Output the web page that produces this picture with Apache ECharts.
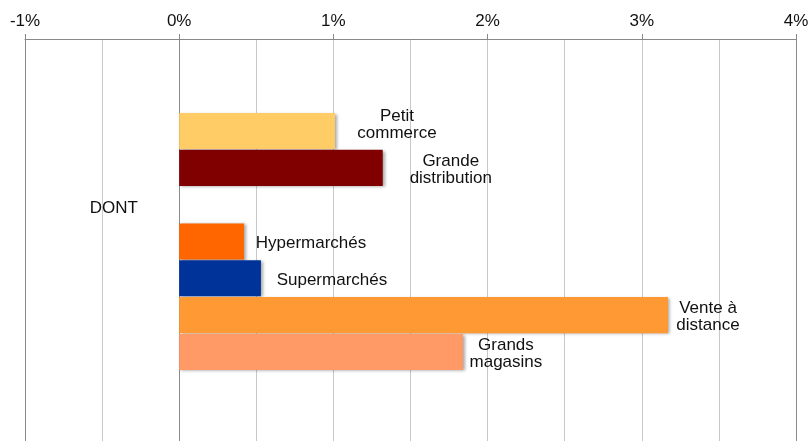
<!DOCTYPE html>
<html>
<head>
<meta charset="utf-8">
<script src="https://cdn.jsdelivr.net/npm/echarts@6/dist/echarts.min.js"></script>
<style>
  html, body { margin: 0; padding: 0; background: #fff; }
  #chart { width: 810px; height: 441px; }
</style>
</head>
<body>
<div id="chart"></div>
<script>
// rows from top to bottom; empty strings are blank rows
const categories = ['', '', 'Petit\ncommerce', 'Grande\ndistribution', 'DONT', 'Hypermarchés', 'Supermarchés', 'Vente à\ndistance', 'Grands\nmagasins', '', '']
const values = [null, null, 1.01, 1.32, null, 0.42, 0.53, 3.17, 1.84, null, null]
const barColors = [null, null, '#ffcc66', '#800000', null, '#ff6600', '#003399', '#ff9933', '#ff9966', null, null]
const tickLabels = ['-1%', '0%', '1%', '2%', '3%', '4%']

// label placement tweaks (offset from the bar end, px)
const labelOffsets = [null, null, [62, -6], [68, 2], null, [67, 2], [71, 2], [40, 2], [43, 2], null, null]

const font = 'Liberation Sans, Arial, sans-serif'
const chart = echarts.init(document.getElementById('chart'))

const seriesData = values.map((v, i) => {
  if (v === null) return null
  const off = labelOffsets[i] || [0, 0]
  return {
    value: v,
    itemStyle: { color: barColors[i] },
    label: { offset: off }
  }
})

chart.setOption({
  animation: false,
  grid: { left: 25, right: 14, top: 39, bottom: -3, containLabel: false, outerBoundsMode: 'none' },
  xAxis: {
    type: 'value',
    position: 'top',
    min: -1,
    max: 4,
    interval: 1,
    axisLine: { show: true, lineStyle: { color: '#888', width: 1 } },
    axisTick: { show: true, length: 5, lineStyle: { color: '#888' } },
    axisLabel: {
      margin: 9,
      fontSize: 17,
      fontFamily: font,
      color: '#111',
      formatter: (v) => tickLabels[Math.round(v) + 1]
    },
    splitLine: {
      show: true,
      lineStyle: { color: ['#8a8a8a', '#8a8a8a', '#c8c8c8', '#c8c8c8', '#c8c8c8', '#8a8a8a'], width: 1 }
    },
    minorTick: { show: false, splitNumber: 2 },
    minorSplitLine: { show: true, lineStyle: { color: '#c8c8c8', width: 1 } }
  },
  yAxis: {
    type: 'category',
    inverse: true,
    data: categories,
    axisLine: { show: true, onZero: true, lineStyle: { color: '#8a8a8a' } },
    axisTick: { show: false },
    splitLine: { show: false },
    axisLabel: {
      margin: -113,
      fontSize: 17,
      fontFamily: font,
      color: '#111',
      formatter: (v) => (v === 'DONT' ? '{s|}\n{d|' + v + '}' : ''),
      rich: {
        s: { lineHeight: 8, fontSize: 8 },
        d: { lineHeight: 17, fontSize: 17, fontFamily: font, color: '#111' }
      }
    }
  },
  series: [
    {
      type: 'bar',
      data: seriesData,
      barCategoryGap: '2%',
      itemStyle: {
        shadowColor: 'rgba(0,0,0,0.35)',
        shadowBlur: 3,
        shadowOffsetX: 2,
        shadowOffsetY: 1
      },
      label: {
        show: true,
        position: 'right',
        distance: 0,
        align: 'center',
        fontSize: 17,
        lineHeight: 17,
        fontFamily: font,
        color: '#111',
        formatter: (p) => categories[p.dataIndex]
      }
    }
  ]
})
</script>
</body>
</html>
